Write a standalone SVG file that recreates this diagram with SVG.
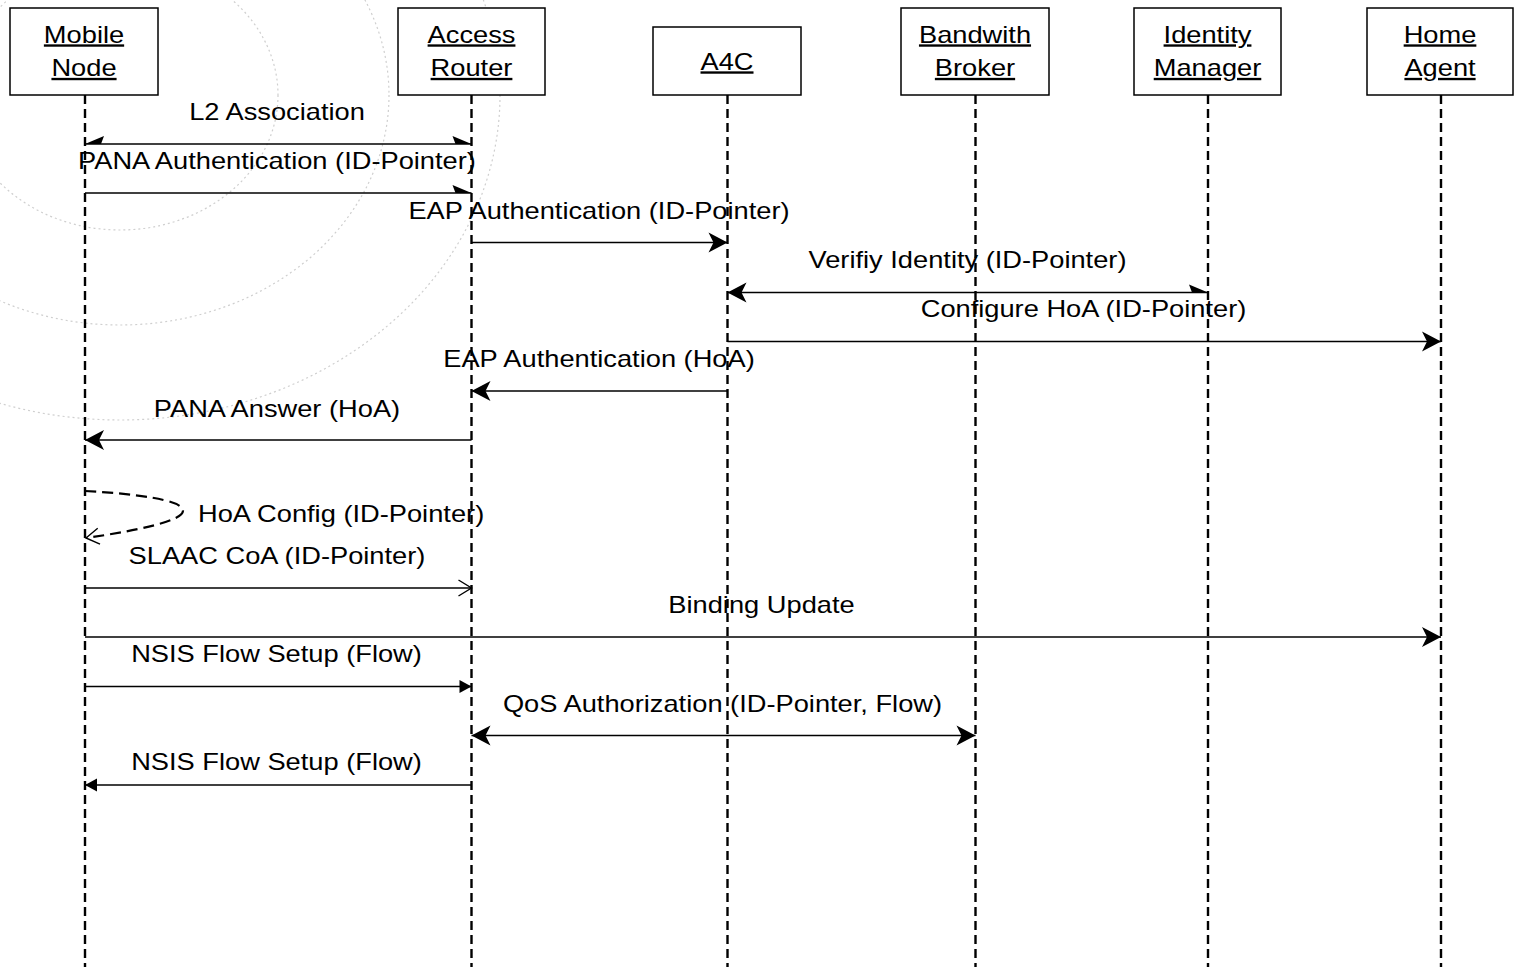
<svg xmlns="http://www.w3.org/2000/svg" width="1514" height="967" viewBox="0 0 1514 967">
<style>
.bg{fill:none;stroke:#cfcfcf;stroke-width:1.2;stroke-dasharray:2 3}
.box{fill:#fff;stroke:#000;stroke-width:1.5}
.t{font-family:"Liberation Sans",Arial,sans-serif;font-size:23.6px;fill:#000;text-anchor:middle}
.s{text-anchor:start}
.u{text-decoration:underline}
.life{stroke:#000;stroke-width:2.4;stroke-dasharray:9 5;fill:none}
.msg{stroke:#000;stroke-width:1.6;fill:none}
.self{stroke:#000;stroke-width:2.2;stroke-dasharray:11 6;fill:none}
</style>
<defs>
<marker id="full" markerUnits="userSpaceOnUse" viewBox="-22 -12 24 24" refX="0" refY="0" markerWidth="24" markerHeight="24" orient="auto-start-reverse">
<path d="M0,0 L-19,-10 L-14,0 L-19,10 Z" fill="#000"/>
</marker>
<marker id="half" markerUnits="userSpaceOnUse" viewBox="-22 -12 24 24" refX="0" refY="0" markerWidth="24" markerHeight="24" orient="auto">
<path d="M0,0 L-19,-8 L-16,0 Z" fill="#000"/>
</marker>
<marker id="halfS" markerUnits="userSpaceOnUse" viewBox="-22 -12 24 24" refX="0" refY="0" markerWidth="24" markerHeight="24" orient="auto-start-reverse">
<path d="M0,0 L-19,8 L-16,0 Z" fill="#000"/>
</marker>
<marker id="small" markerUnits="userSpaceOnUse" viewBox="-14 -8 16 16" refX="0" refY="0" markerWidth="16" markerHeight="16" orient="auto-start-reverse">
<path d="M0,0 L-12,-6.5 L-12,6.5 Z" fill="#000"/>
</marker>
<marker id="open" markerUnits="userSpaceOnUse" viewBox="-16 -11 18 22" refX="0" refY="0" markerWidth="18" markerHeight="22" orient="auto">
<path d="M-13,-8 L0,0 L-13,8" fill="none" stroke="#000" stroke-width="1.4"/>
</marker>
</defs>
<rect width="1514" height="967" fill="#fff"/>
<g id="background">
<ellipse class="bg" cx="120" cy="95" rx="158" ry="135"/>
<ellipse class="bg" cx="120" cy="95" rx="269" ry="230"/>
<ellipse class="bg" cx="120" cy="95" rx="380" ry="325"/>
</g>
<g id="lifelines">
<line class="life" x1="85" y1="95" x2="85" y2="967"/>
<line class="life" x1="471.5" y1="95" x2="471.5" y2="967"/>
<line class="life" x1="727.5" y1="95" x2="727.5" y2="967"/>
<line class="life" x1="975.5" y1="95" x2="975.5" y2="967"/>
<line class="life" x1="1208" y1="95" x2="1208" y2="967"/>
<line class="life" x1="1441" y1="95" x2="1441" y2="967"/>
</g>
<g id="node-mobile">
<rect class="box" x="10" y="8" width="148" height="87"/>
<text class="t u" transform="translate(84 42.5) scale(1.155 1)">Mobile</text>
<text class="t u" transform="translate(84 76) scale(1.155 1)">Node</text>
</g>
<g id="node-access-router">
<rect class="box" x="398" y="8" width="147" height="87"/>
<text class="t u" transform="translate(471.5 42.5) scale(1.155 1)">Access</text>
<text class="t u" transform="translate(471.5 76) scale(1.155 1)">Router</text>
</g>
<g id="node-a4c">
<rect class="box" x="653" y="27" width="148" height="68"/>
<text class="t u" transform="translate(727 69.5) scale(1.155 1)">A4C</text>
</g>
<g id="node-bandwith-broker">
<rect class="box" x="901" y="8" width="148" height="87"/>
<text class="t u" transform="translate(975 42.5) scale(1.155 1)">Bandwith</text>
<text class="t u" transform="translate(975 76) scale(1.155 1)">Broker</text>
</g>
<g id="node-identity-manager">
<rect class="box" x="1134" y="8" width="147" height="87"/>
<text class="t u" transform="translate(1207.5 42.5) scale(1.155 1)">Identity</text>
<text class="t u" transform="translate(1207.5 76) scale(1.155 1)">Manager</text>
</g>
<g id="node-home-agent">
<rect class="box" x="1367" y="8" width="146" height="87"/>
<text class="t u" transform="translate(1440 42.5) scale(1.155 1)">Home</text>
<text class="t u" transform="translate(1440 76) scale(1.155 1)">Agent</text>
</g>
<g id="connectors">
<line class="msg" x1="85" y1="144" x2="471.5" y2="144" marker-start="url(#halfS)" marker-end="url(#half)"/>
<line class="msg" x1="85" y1="193" x2="471.5" y2="193" marker-end="url(#half)"/>
<line class="msg" x1="471.5" y1="242.5" x2="727.5" y2="242.5" marker-end="url(#full)"/>
<line class="msg" x1="727.5" y1="292.5" x2="1208" y2="292.5" marker-start="url(#full)" marker-end="url(#half)"/>
<line class="msg" x1="727.5" y1="341.5" x2="1441" y2="341.5" marker-end="url(#full)"/>
<line class="msg" x1="727.5" y1="391" x2="471.5" y2="391" marker-end="url(#full)"/>
<line class="msg" x1="471.5" y1="440" x2="85" y2="440" marker-end="url(#full)"/>
<path class="self" d="M85,491 C140,494 176,500 182,508 C188,516 168,526 86,538" marker-end="url(#open)"/>
<line class="msg" x1="85" y1="588" x2="471.5" y2="588" marker-end="url(#open)"/>
<line class="msg" x1="85" y1="637" x2="1441" y2="637" marker-end="url(#full)"/>
<line class="msg" x1="85" y1="686.5" x2="471.5" y2="686.5" marker-end="url(#small)"/>
<line class="msg" x1="471.5" y1="735.5" x2="975.5" y2="735.5" marker-start="url(#full)" marker-end="url(#full)"/>
<line class="msg" x1="471.5" y1="785" x2="85" y2="785" marker-end="url(#small)"/>
</g>
<g id="labels">
<text class="t" transform="translate(277 120) scale(1.155 1)">L2 Association</text>
<text class="t" transform="translate(277 169) scale(1.155 1)">PANA Authentication (ID-Pointer)</text>
<text class="t" transform="translate(599 219) scale(1.155 1)">EAP Authentication (ID-Pointer)</text>
<text class="t" transform="translate(967.5 268) scale(1.155 1)">Verifiy Identity (ID-Pointer)</text>
<text class="t" transform="translate(1083.5 317) scale(1.155 1)">Configure HoA (ID-Pointer)</text>
<text class="t" transform="translate(599 367) scale(1.155 1)">EAP Authentication (HoA)</text>
<text class="t" transform="translate(277 416.5) scale(1.155 1)">PANA Answer (HoA)</text>
<text class="t s" transform="translate(198 521.5) scale(1.155 1)">HoA Config (ID-Pointer)</text>
<text class="t" transform="translate(277 564) scale(1.155 1)">SLAAC CoA (ID-Pointer)</text>
<text class="t" transform="translate(761.5 612.5) scale(1.155 1)">Binding Update</text>
<text class="t" transform="translate(276.5 662) scale(1.155 1)">NSIS Flow Setup (Flow)</text>
<text class="t" transform="translate(722.5 711.5) scale(1.155 1)">QoS Authorization (ID-Pointer, Flow)</text>
<text class="t" transform="translate(276.5 770) scale(1.155 1)">NSIS Flow Setup (Flow)</text>
</g>
</svg>
